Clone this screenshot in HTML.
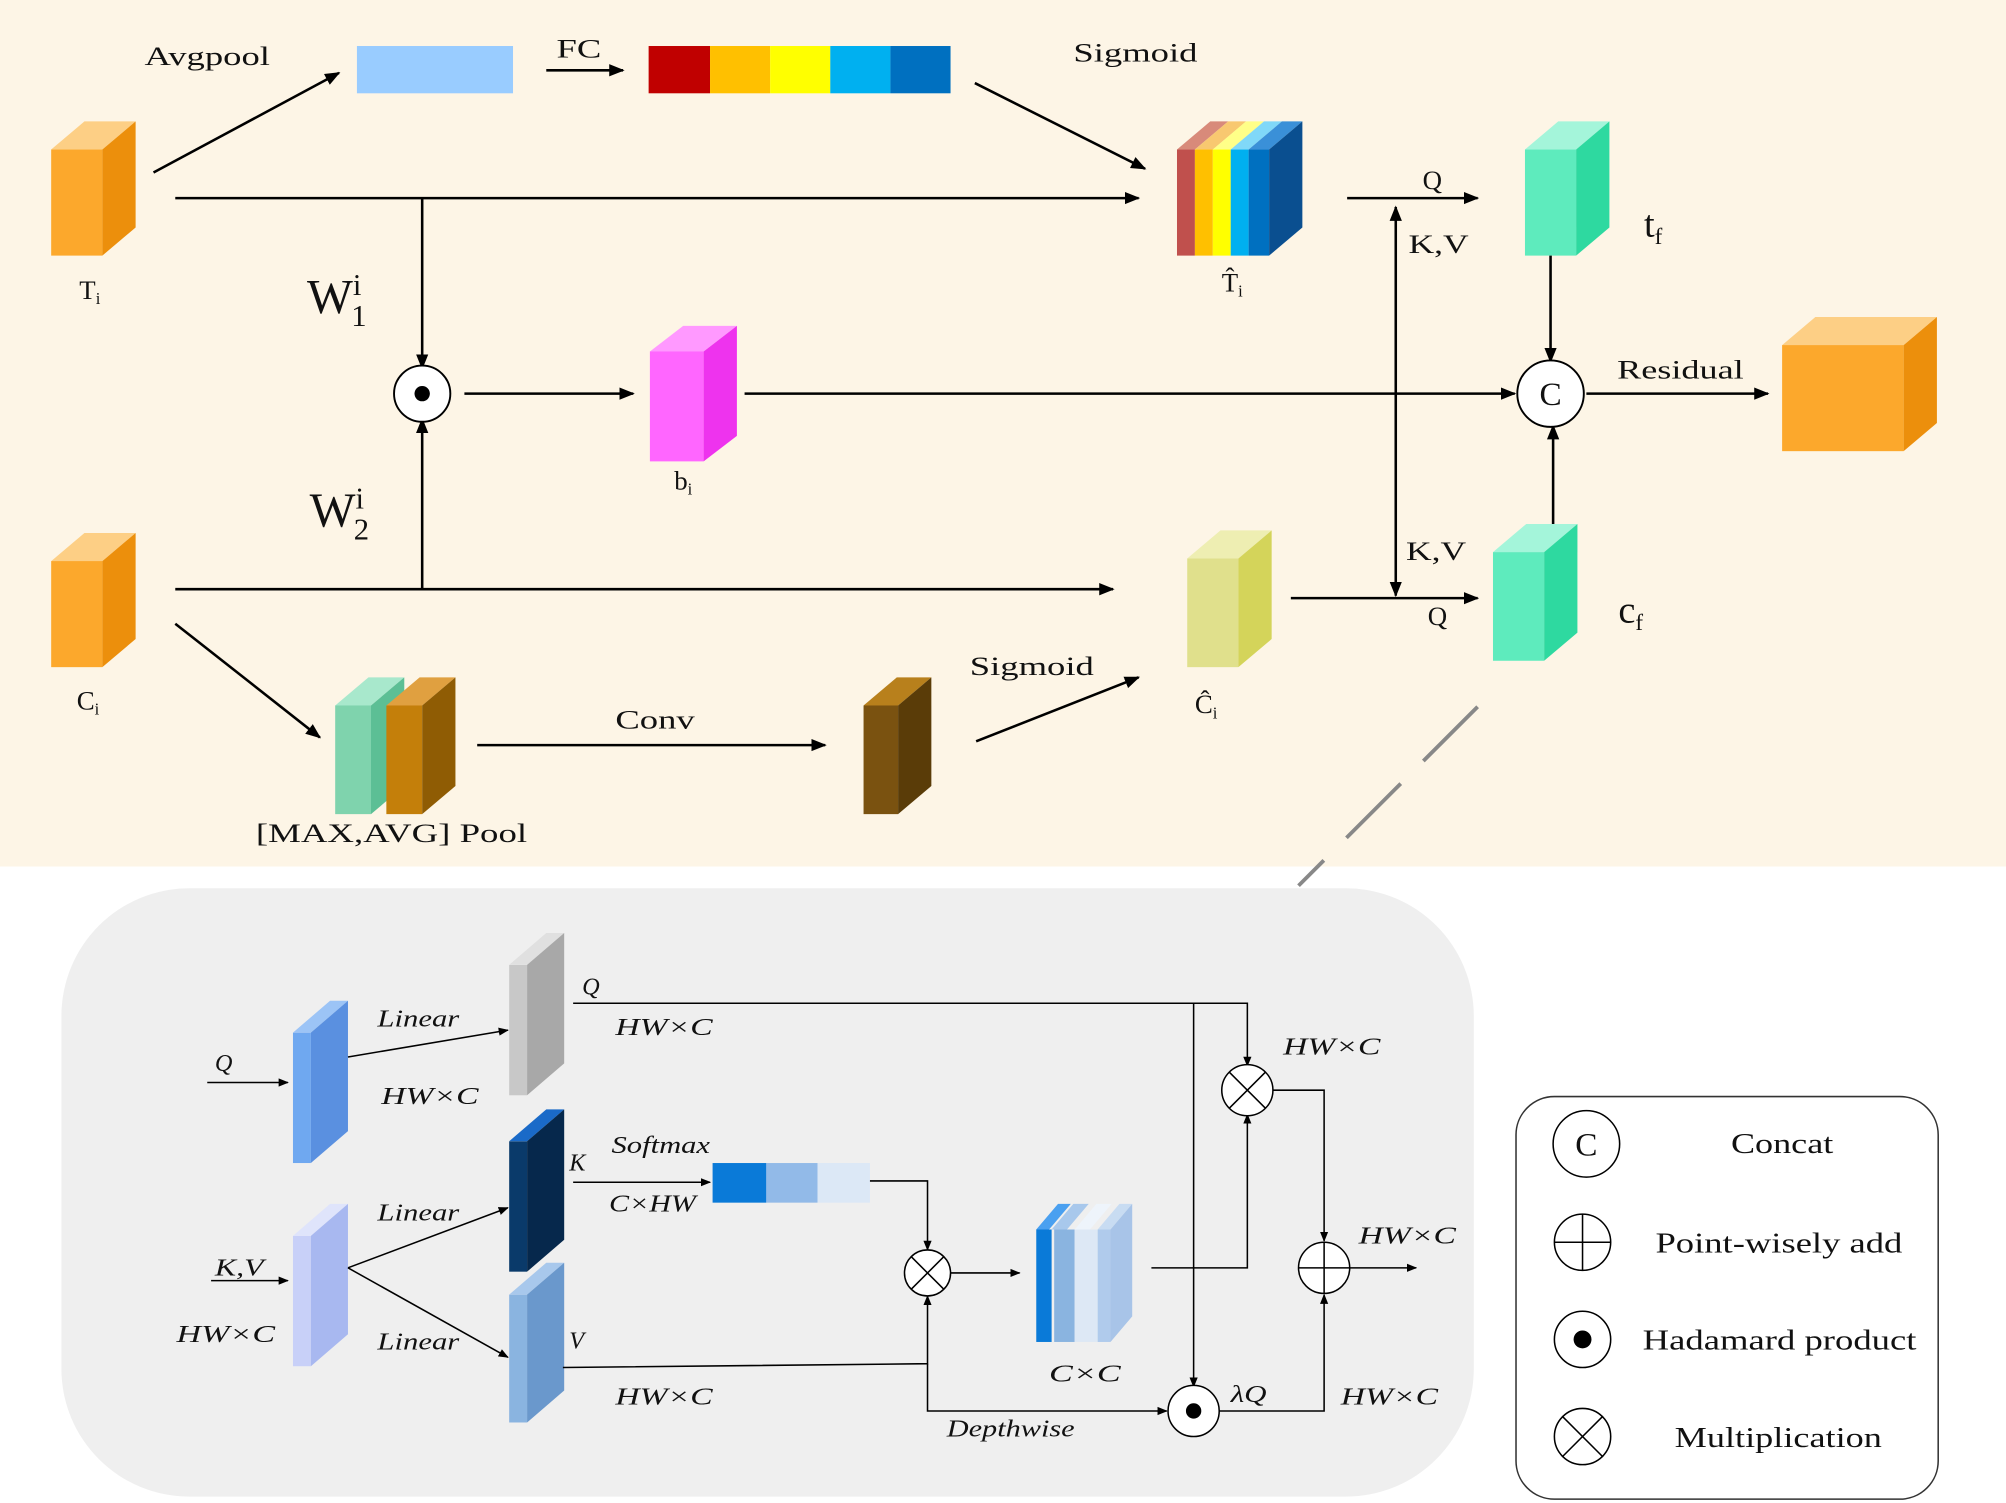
<!DOCTYPE html>
<html><head><meta charset="utf-8"><style>
html,body{margin:0;padding:0;background:#fff}
svg{display:block}
text{font-family:"Liberation Serif",serif;fill:#111}
.i{font-style:italic;font-size:19px}
</style></head><body>
<svg width="2006" height="1503" viewBox="0 0 1568 1176" preserveAspectRatio="none" xmlns="http://www.w3.org/2000/svg">
<defs>
<marker id="a" viewBox="0 0 10 10" refX="9" refY="5" markerWidth="8" markerHeight="8" orient="auto-start-reverse" markerUnits="userSpaceOnUse"><path d="M0,1 L10,5 L0,9 z" fill="#000"/></marker>
<marker id="b" viewBox="0 0 10 10" refX="9" refY="5" markerWidth="12" markerHeight="12" orient="auto-start-reverse" markerUnits="userSpaceOnUse"><path d="M0,1 L10,5 L0,9 z" fill="#000"/></marker>
</defs>
<rect x="0" y="0" width="1568" height="678" fill="#fdf5e6"/>
<rect x="48" y="695" width="1104" height="476" rx="100" fill="#efefef"/>
<rect x="1185" y="858" width="330" height="315" rx="30" fill="#fff" stroke="#333" stroke-width="1.2"/>
<line x1="1155" y1="553" x2="1015" y2="693" stroke="#888" stroke-width="3" stroke-dasharray="60,25"/>

<g><path d="M40,117 L66,95 L106,95 L80,117z" fill="#fdcf85"/><rect x="40" y="117" width="40" height="83" fill="#fca82c"/><path d="M80,117 L106,95 L106,178 L80,200z" fill="#ec8f0c"/></g>
<g><path d="M40,439 L66,417 L106,417 L80,439z" fill="#fdcf85"/><rect x="40" y="439" width="40" height="83" fill="#fca82c"/><path d="M80,439 L106,417 L106,500 L80,522z" fill="#ec8f0c"/></g>
<g><path d="M1393,270 L1419,248 L1514,248 L1488,270z" fill="#fdcf85"/><rect x="1393" y="270" width="95" height="83" fill="#fca82c"/><path d="M1488,270 L1514,248 L1514,331 L1488,353z" fill="#ec8f0c"/></g>
<g><path d="M508,275 L534,255 L576,255 L550,275z" fill="#ff99ff"/><rect x="508" y="275" width="42" height="86" fill="#ff66ff"/><path d="M550,275 L576,255 L576,341 L550,361z" fill="#ee33ee"/></g>
<g><path d="M1192,117 L1218,95 L1258,95 L1232,117z" fill="#a4f5da"/><rect x="1192" y="117" width="40" height="83" fill="#5eebbd"/><path d="M1232,117 L1258,95 L1258,178 L1232,200z" fill="#2ed9a0"/></g>
<g><path d="M1167,432 L1193,410 L1233,410 L1207,432z" fill="#a4f5da"/><rect x="1167" y="432" width="40" height="85" fill="#5eebbd"/><path d="M1207,432 L1233,410 L1233,495 L1207,517z" fill="#2ed9a0"/></g>
<g><path d="M928,437 L954,415 L994,415 L968,437z" fill="#eeeeb2"/><rect x="928" y="437" width="40" height="85" fill="#e0e08c"/><path d="M968,437 L994,415 L994,500 L968,522z" fill="#d4d45a"/></g>
<g>
<path d="M920,117 L946,95 L960,95 L934,117z" fill="#d88a7a"/><rect x="920" y="117" width="14" height="83" fill="#c0504d"/>
<path d="M934,117 L960,95 L974,95 L948,117z" fill="#f8c870"/><rect x="934" y="117" width="14" height="83" fill="#ffc000"/>
<path d="M948,117 L974,95 L988,95 L962,117z" fill="#ffff88"/><rect x="948" y="117" width="14" height="83" fill="#ffff00"/>
<path d="M962,117 L988,95 L1002,95 L976,117z" fill="#80d8f8"/><rect x="962" y="117" width="14" height="83" fill="#00b0f0"/>
<path d="M976,117 L1002,95 L1018,95 L992,117z" fill="#3a90d8"/><rect x="976" y="117" width="16" height="83" fill="#0070c0"/>
<path d="M992,117 L1018,95 L1018,178 L992,200z" fill="#0a4f90"/>
</g>
<g><path d="M262,552 L288,530 L316,530 L290,552z" fill="#a8e8cc"/><rect x="262" y="552" width="28" height="85" fill="#7fd3ad"/><path d="M290,552 L316,530 L316,615 L290,637z" fill="#5cbf95"/></g>
<g><path d="M302,552 L328,530 L356,530 L330,552z" fill="#e0a040"/><rect x="302" y="552" width="28" height="85" fill="#c47f0a"/><path d="M330,552 L356,530 L356,615 L330,637z" fill="#8f5c04"/></g>
<g><path d="M675,552 L701,530 L728,530 L702,552z" fill="#b8801c"/><rect x="675" y="552" width="27" height="85" fill="#7a5210"/><path d="M702,552 L728,530 L728,615 L702,637z" fill="#5a3c08"/></g>
<rect x="279" y="36" width="122" height="37" fill="#99ccff"/>
<rect x="507" y="36" width="48" height="37" fill="#c00000"/><rect x="555" y="36" width="47" height="37" fill="#ffc000"/><rect x="602" y="36" width="47" height="37" fill="#ffff00"/><rect x="649" y="36" width="47" height="37" fill="#00b0f0"/><rect x="696" y="36" width="47" height="37" fill="#0070c0"/>

<g stroke="#000" stroke-width="2" fill="none" marker-end="url(#b)">
<line x1="120" y1="135" x2="265" y2="57"/>
<line x1="427" y1="55" x2="487" y2="55"/>
<line x1="762" y1="65" x2="895" y2="132"/>
<line x1="137" y1="155" x2="890" y2="155"/>
<line x1="330" y1="155" x2="330" y2="288"/>
<line x1="363" y1="308" x2="495" y2="308"/>
<line x1="582" y1="308" x2="1184" y2="308"/>
<line x1="1240" y1="308" x2="1382" y2="308"/>
<line x1="137" y1="461" x2="870" y2="461"/>
<line x1="330" y1="461" x2="330" y2="328"/>
<line x1="1053" y1="155" x2="1155" y2="155"/>
<line x1="1091" y1="466" x2="1091" y2="162" marker-start="url(#b)"/>
<line x1="1009" y1="468" x2="1155" y2="468"/>
<line x1="1212" y1="200" x2="1212" y2="283"/>
<line x1="1214" y1="410" x2="1214" y2="333"/>
<line x1="137" y1="488" x2="250" y2="577"/>
<line x1="373" y1="583" x2="645" y2="583"/>
<line x1="763" y1="580" x2="890" y2="530"/>
</g>
<circle cx="330" cy="308" r="22" fill="#fff" stroke="#000" stroke-width="1.5"/><circle cx="330" cy="308" r="6" fill="#000"/>
<circle cx="1212" cy="308" r="26" fill="#fff" stroke="#000" stroke-width="1.5"/><text x="1212" y="317" font-size="26" text-anchor="middle">C</text>

<g font-size="21">
<text x="113" y="51" textLength="98" lengthAdjust="spacingAndGlyphs">Avgpool</text>
<text x="435" y="45" textLength="35" lengthAdjust="spacingAndGlyphs">FC</text>
<text x="839" y="48" textLength="97" lengthAdjust="spacingAndGlyphs">Sigmoid</text>
<text x="62" y="234">T<tspan font-size="13" dy="4">i</tspan></text>
<text x="527" y="383">b<tspan font-size="13" dy="4">i</tspan></text>
<text x="955" y="228">T̂<tspan font-size="13" dy="4">i</tspan></text>
<text x="1112" y="148">Q</text><text x="1101" y="198" textLength="47" lengthAdjust="spacingAndGlyphs">K,V</text>
<text x="1264" y="296" textLength="99" lengthAdjust="spacingAndGlyphs">Residual</text>
<text x="1099" y="438" textLength="47" lengthAdjust="spacingAndGlyphs">K,V</text><text x="1116" y="489">Q</text>
<text x="934" y="558">Ĉ<tspan font-size="13" dy="4">i</tspan></text>
<text x="60" y="555">C<tspan font-size="13" dy="4">i</tspan></text>
<text x="481" y="570" textLength="62" lengthAdjust="spacingAndGlyphs">Conv</text>
<text x="758" y="528" textLength="97" lengthAdjust="spacingAndGlyphs">Sigmoid</text>
<text x="200" y="659" textLength="212" lengthAdjust="spacingAndGlyphs">[MAX,AVG] Pool</text>
</g>
<text x="240" y="245" font-size="38">W<tspan font-size="24" dy="-14">i</tspan><tspan font-size="24" dx="-8" dy="24">1</tspan></text>
<text x="242" y="412" font-size="38">W<tspan font-size="24" dy="-14">i</tspan><tspan font-size="24" dx="-8" dy="24">2</tspan></text>
<text x="1285" y="185" font-size="30">t<tspan font-size="18" dy="6">f</tspan></text>
<text x="1265" y="487" font-size="30">c<tspan font-size="18" dy="6">f</tspan></text>

<g><rect x="229" y="808" width="14" height="102" fill="#6fa8f0"/><path d="M229,808 L258,783 L272,783 L243,808z" fill="#9cc4f6"/><path d="M243,808 L272,783 L272,885 L243,910z" fill="#5a90e0"/></g>
<g><rect x="398" y="755" width="14" height="102" fill="#c8c8c8"/><path d="M398,755 L427,730 L441,730 L412,755z" fill="#e0e0e0"/><path d="M412,755 L441,730 L441,832 L412,857z" fill="#a8a8a8"/></g>
<g><rect x="398" y="893" width="14" height="102" fill="#0a3a6a"/><path d="M398,893 L427,868 L441,868 L412,893z" fill="#1a6ac8"/><path d="M412,893 L441,868 L441,970 L412,995z" fill="#06284c"/></g>
<g><rect x="398" y="1013" width="14" height="100" fill="#8ab4e0"/><path d="M398,1013 L427,988 L441,988 L412,1013z" fill="#a8c8ec"/><path d="M412,1013 L441,988 L441,1088 L412,1113z" fill="#6a98cc"/></g>
<g><rect x="229" y="967" width="14" height="102" fill="#c8d0f8"/><path d="M229,967 L258,942 L272,942 L243,967z" fill="#dfe4fb"/><path d="M243,967 L272,942 L272,1044 L243,1069z" fill="#a8b8f0"/></g>
<rect x="557" y="910" width="42" height="31" fill="#0a7ad8"/><rect x="599" y="910" width="40" height="31" fill="#92bae8"/><rect x="639" y="910" width="41" height="31" fill="#dce8f6"/>
<g>
<path d="M810,962 L827,942 L837,942 L820,962z" fill="#4aa0f0"/><rect x="810" y="962" width="12" height="88" fill="#0a7ad8"/>
<path d="M822,962 L839,942 L851,942 L834,962z" fill="#a8c8ec"/><rect x="824" y="962" width="16" height="88" fill="#8ab4e0"/>
<path d="M840,962 L857,942 L869,942 L852,962z" fill="#eef4fb"/><rect x="840" y="962" width="18" height="88" fill="#dde8f5"/>
<path d="M858,962 L875,942 L885,942 L868,962z" fill="#c8dcf2"/><rect x="858" y="962" width="10" height="88" fill="#b0cbec"/>
<path d="M868,962 L885,942 L885,1030 L868,1050z" fill="#a8c4e8"/>
</g>
<g stroke="#000" stroke-width="1.2" fill="none" marker-end="url(#a)">
<line x1="162" y1="847" x2="225" y2="847"/>
<line x1="272" y1="827" x2="397" y2="806"/>
<line x1="272" y1="992" x2="397" y2="945"/>
<line x1="272" y1="992" x2="397" y2="1062"/>
<line x1="165" y1="1002" x2="225" y2="1002"/>
<line x1="448" y1="925" x2="555" y2="925"/>
<polyline points="680,924 725,924 725,978"/>
<line x1="742" y1="996" x2="797" y2="996"/>
<polyline points="900,992 975,992 975,872"/>
<polyline points="448,785 975,785 975,834"/>
<polyline points="933,785 933,1085"/>
<polyline points="440,1070 725,1067 725,1014"/>
<polyline points="725,1067 725,1104 912,1104"/>
<polyline points="953,1104 1035,1104 1035,1013"/>
<polyline points="995,853 1035,853 1035,971"/>
<line x1="1055" y1="992" x2="1107" y2="992"/>
</g>
<g stroke="#000" stroke-width="1.2" fill="#fff">
<circle cx="725" cy="996" r="18"/><path d="M712,983 L738,1009 M738,983 L712,1009"/>
<circle cx="975" cy="853" r="20"/><path d="M961,839 L989,867 M989,839 L961,867"/>
<circle cx="933" cy="1104" r="20"/>
<circle cx="1035" cy="992" r="20"/><path d="M1015,992 L1055,992 M1035,972 L1035,1012"/>
<circle cx="1240" cy="895" r="26"/>
<circle cx="1237" cy="972" r="22"/><path d="M1215,972 L1259,972 M1237,950 L1237,994"/>
<circle cx="1237" cy="1048" r="22"/>
<circle cx="1237" cy="1124" r="22"/><path d="M1221,1108 L1253,1140 M1253,1108 L1221,1140"/>
</g>
<circle cx="933" cy="1104" r="6" fill="#000"/>
<circle cx="1237" cy="1048" r="7" fill="#000"/>
<text x="1240" y="904" font-size="26" text-anchor="middle">C</text>
<g class="i">
<text x="295" y="803" textLength="64" lengthAdjust="spacingAndGlyphs">Linear</text><text x="298" y="864" textLength="76" lengthAdjust="spacingAndGlyphs">HW×C</text>
<text x="168" y="838">Q</text>
<text x="455" y="778">Q</text><text x="481" y="810" textLength="76" lengthAdjust="spacingAndGlyphs">HW×C</text>
<text x="1003" y="825" textLength="76" lengthAdjust="spacingAndGlyphs">HW×C</text>
<text x="445" y="916">K</text><text x="478" y="902" textLength="77" lengthAdjust="spacingAndGlyphs">Softmax</text><text x="476" y="948" textLength="68" lengthAdjust="spacingAndGlyphs">C×HW</text>
<text x="295" y="955" textLength="64" lengthAdjust="spacingAndGlyphs">Linear</text><text x="295" y="1056" textLength="64" lengthAdjust="spacingAndGlyphs">Linear</text>
<text x="168" y="998" textLength="38" lengthAdjust="spacingAndGlyphs">K,V</text><text x="138" y="1050" textLength="77" lengthAdjust="spacingAndGlyphs">HW×C</text>
<text x="445" y="1055">V</text><text x="481" y="1099" textLength="76" lengthAdjust="spacingAndGlyphs">HW×C</text>
<text x="820" y="1081" textLength="56" lengthAdjust="spacingAndGlyphs">C×C</text><text x="962" y="1097" textLength="28" lengthAdjust="spacingAndGlyphs">λQ</text>
<text x="1048" y="1099" textLength="76" lengthAdjust="spacingAndGlyphs">HW×C</text><text x="1062" y="973" textLength="76" lengthAdjust="spacingAndGlyphs">HW×C</text>
<text x="740" y="1124" textLength="100" lengthAdjust="spacingAndGlyphs">Depthwise</text>
</g>
<g font-size="22">
<text x="1353" y="902" textLength="80" lengthAdjust="spacingAndGlyphs">Concat</text>
<text x="1294" y="980" textLength="193" lengthAdjust="spacingAndGlyphs">Point-wisely add</text>
<text x="1284" y="1056" textLength="214" lengthAdjust="spacingAndGlyphs">Hadamard product</text>
<text x="1309" y="1132" textLength="162" lengthAdjust="spacingAndGlyphs">Multiplication</text>
</g>
</svg>
</body></html>
